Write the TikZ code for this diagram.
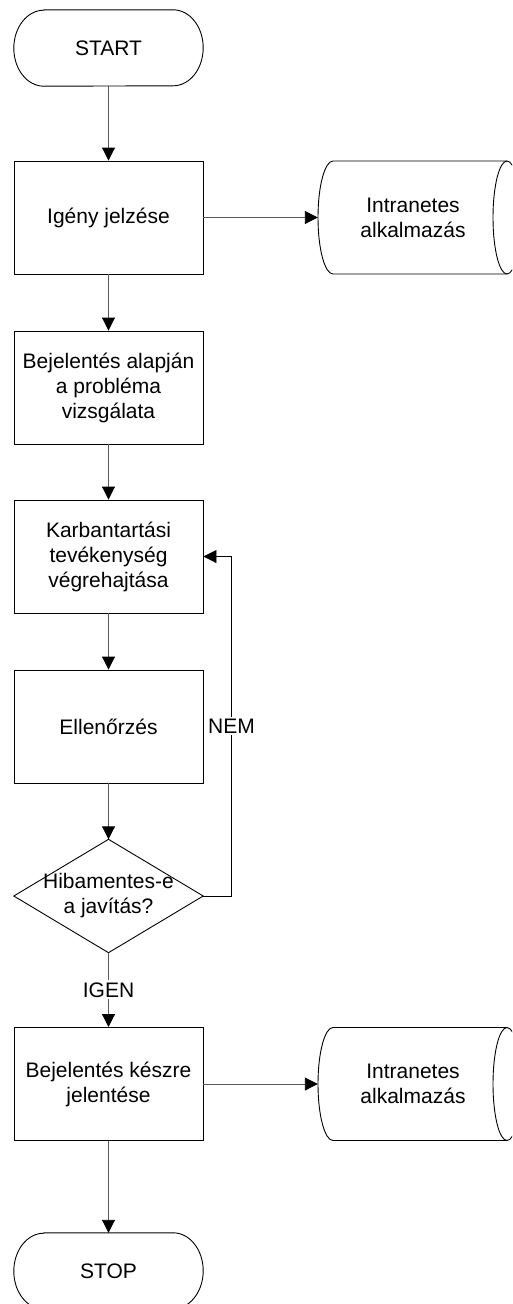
\documentclass[tikz,border=0pt]{standalone}
\usepackage{fontspec}
\setmainfont{Liberation Sans}
\usetikzlibrary{arrows.meta}
\begin{document}
\begin{tikzpicture}[x=1pt,y=-1pt,
  every node/.style={font=\fontsize{21}{25}\selectfont, align=center, inner sep=0pt},
  procbox/.style={draw=black, line width=0.9pt, minimum width=189pt, minimum height=113pt},
  shapebox/.style={draw=none, minimum width=189pt, minimum height=113pt},
  termbox/.style={draw=none, minimum width=189pt, minimum height=76pt},
  outline/.style={draw=black, line width=0.9pt},
  flow/.style={draw={rgb,255:red,90;green,90;blue,90}, line width=0.9pt,
    -{Triangle[length=13pt,width=13pt,fill=black,color=black]}},
  loopline/.style={draw=black, line width=0.9pt,
    -{Triangle[length=13pt,width=13pt,fill=black,color=black]}},
  tag/.style={fill=white, inner sep=2pt}
]
\useasboundingbox (0,0) rectangle (512,1304);
\clip (0,0) rectangle (512,1304);

% terminals
\node[termbox] (start) at (108.5,48) {START};
\draw[outline] ([xshift=30pt]start.north west) -- ([xshift=-30pt]start.north east)
  arc[start angle=90, end angle=-90, x radius=30pt, y radius=38pt]
  -- ([xshift=30pt]start.south west)
  arc[start angle=270, end angle=90, x radius=30pt, y radius=38pt] -- cycle;

\node[termbox] (stop) at (108.5,1271) {STOP};
\draw[outline] ([xshift=30pt]stop.north west) -- ([xshift=-30pt]stop.north east)
  arc[start angle=90, end angle=-90, x radius=30pt, y radius=38pt]
  -- ([xshift=30pt]stop.south west)
  arc[start angle=270, end angle=90, x radius=30pt, y radius=38pt] -- cycle;

% process steps
\node[procbox] (req) at (108.5,217.5) {Igény jelzése};
\node[procbox] (exam) at (108.5,387.5) {Bejelentés alapján\\a probléma\\vizsgálata};
\node[procbox] (maint) at (108.5,556.5) {Karbantartási\\tevékenység\\végrehajtása};
\node[procbox] (check) at (108.5,726.5) {Ellenőrzés};
\node[procbox] (done) at (108.5,1084) {Bejelentés készre\\jelentése};

% decision
\node[shapebox] (dec) at (108.5,896) {Hibamentes-e\\a javítás?};
\draw[outline] (dec.north) -- (dec.east) -- (dec.south) -- (dec.west) -- cycle;

% stored data (intranet application)
\node[shapebox, minimum width=190pt] (db1) at (413,217.5) {Intranetes\\alkalmazás};
\draw[outline] (333,161) -- (507,161)
  arc[start angle=90, end angle=-90, x radius=14pt, y radius=56.5pt]
  -- (333,274)
  arc[start angle=270, end angle=90, x radius=15pt, y radius=56.5pt] -- cycle;
\draw[outline] (507,161) arc[start angle=90, end angle=270, x radius=14pt, y radius=56.5pt];

\node[shapebox, minimum width=190pt] (db2) at (413,1084) {Intranetes\\alkalmazás};
\draw[outline] (333,1027.5) -- (507,1027.5)
  arc[start angle=90, end angle=-90, x radius=14pt, y radius=56.5pt]
  -- (333,1140.5)
  arc[start angle=270, end angle=90, x radius=15pt, y radius=56.5pt] -- cycle;
\draw[outline] (507,1027.5) arc[start angle=90, end angle=270, x radius=14pt, y radius=56.5pt];

% connectors
\draw[flow] (start.south) -- (req.north);
\draw[flow] (req.east) -- (db1.west);
\draw[flow] (req.south) -- (exam.north);
\draw[flow] (exam.south) -- (maint.north);
\draw[flow] (maint.south) -- (check.north);
\draw[flow] (check.south) -- (dec.north);
\draw[flow] (dec.south) -- node[tag] {IGEN} (done.north);
\draw[flow] (done.east) -- (db2.west);
\draw[flow] (done.south) -- (stop.north);
\coordinate (loopbot) at (231.5,896);
\coordinate (looptop) at (231.5,556.5);
\draw[loopline] (dec.east) -- (loopbot) -- node[tag, pos=0.5] {NEM} (looptop) -- (maint.east);
\end{tikzpicture}
\end{document}
